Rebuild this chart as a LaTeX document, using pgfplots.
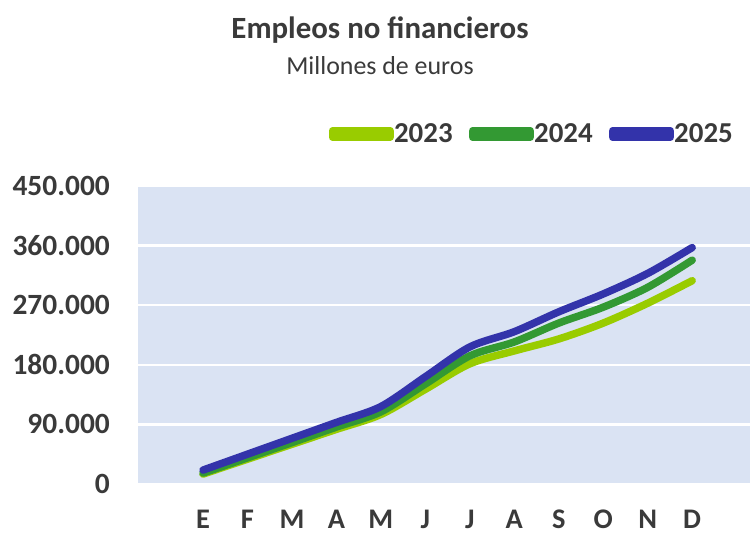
\documentclass[border=0pt]{standalone}
\usepackage{fontspec}
\setmainfont{Carlito}
\usepackage{pgfplots}
\pgfplotsset{compat=1.18}
\definecolor{bg}{HTML}{DAE3F3}
\definecolor{c23}{HTML}{99CC00}
\definecolor{c24}{HTML}{339933}
\definecolor{c25}{HTML}{3333AA}
\definecolor{txt}{HTML}{3A3A3A}
\begin{document}
\begin{tikzpicture}
\useasboundingbox (-138bp,-49bp) rectangle (618bp,484bp);
\begin{axis}[
  scale only axis, width=612bp, height=298bp,
  xmin=-0.462, xmax=13.30, ymin=0, ymax=450000,
  axis line style={draw=none},
  axis background/.style={fill=bg},
  ytick={0,90000,180000,270000,360000,450000},
  yticklabels={0,90.000,180.000,270.000,360.000,450.000},
  xtick={1,2,3,4,5,6,7,8,9,10,11,12},
  xticklabels={E,F,M,A,M,J,J,A,S,O,N,D},
  major tick length=0pt,
  ymajorgrids, grid style={white, line width=2.5bp},
  scaled y ticks=false,
  tick label style={font=\fontsize{29.5}{33}\selectfont\bfseries, text=txt, inner sep=0pt},
  yticklabel style={anchor=east, xshift=-28bp},
  xticklabel style={anchor=north, yshift=-26bp, font=\fontsize{28.5}{32}\selectfont\bfseries},
  legend columns=3,
  legend style={at={(0.9722,1.1745)}, anchor=east, draw=none, fill=none, inner sep=0pt,
    font=\fontsize{29}{33}\selectfont\bfseries, text=txt,
    nodes={inner sep=0pt},
    /tikz/every odd column/.append style={column sep=0bp},
    /tikz/every even column/.append style={column sep=16bp}},
  legend image code/.code={\path (0bp,-3bp) rectangle (58bp,3bp); \draw[#1, line width=7.5bp, line cap=round] (3.75bp,0bp) -- (54.25bp,0bp);},
  every axis plot/.append style={line width=7.5bp, line cap=round, line join=round, smooth, tension=0.5, mark=none},
]
\addplot[c23] coordinates {(1,15000) (2,37500) (3,60000) (4,82500) (5,105000) (6,143000) (7,181500) (8,201000) (9,219000) (10,243000) (11,273000) (12,307000)};
\addlegendentry{2023}
\addplot[c24] coordinates {(1,16500) (2,39500) (3,62500) (4,86000) (5,109000) (6,151000) (7,193500) (8,214500) (9,243000) (10,267000) (11,297000) (12,338000)};
\addlegendentry{2024}
\addplot[c25] coordinates {(1,21000) (2,45000) (3,69000) (4,93000) (5,117000) (6,162000) (7,207000) (8,230000) (9,260000) (10,287000) (11,318000) (12,357000)};
\addlegendentry{2025}
\end{axis}
\node[anchor=base, font=\fontsize{31}{36}\selectfont\bfseries, text=txt] at (242bp,445bp) {Empleos no financieros};
\node[anchor=base, font=\fontsize{26}{30}\selectfont, text=txt] at (242bp,409bp) {Millones de euros};
\end{tikzpicture}
\end{document}
